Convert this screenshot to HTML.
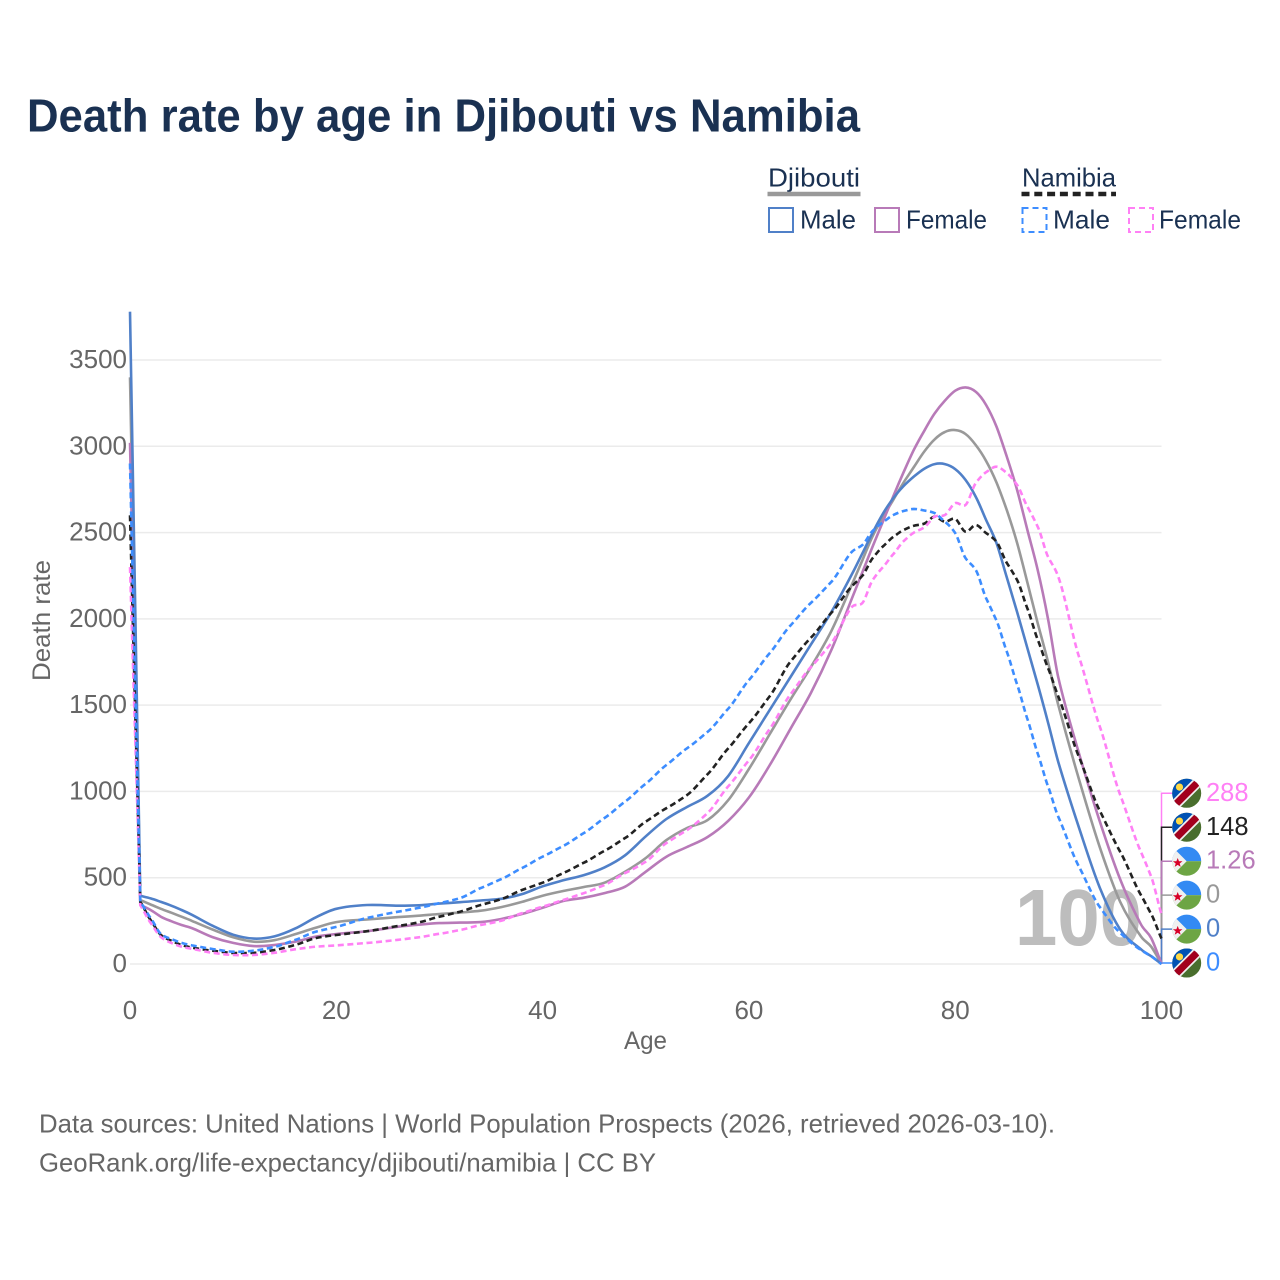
<!DOCTYPE html>
<html lang="en">
<head>
<meta charset="utf-8">
<title>Death rate by age in Djibouti vs Namibia</title>
<style>
html,body{margin:0;padding:0;background:#fff;}
svg{display:block;font-family:"Liberation Sans",sans-serif;}
</style>
</head>
<body>
<svg id="chart" xmlns="http://www.w3.org/2000/svg" width="1280" height="1280" viewBox="0 0 1280 1280">
  <defs>
    <clipPath id="flag-clip"><circle cx="0" cy="0" r="14.5"/></clipPath>
    <symbol id="flag-namibia" viewBox="-15 -15 30 30" overflow="visible">
      <g clip-path="url(#flag-clip)">
        <rect x="-15" y="-15" width="30" height="30" fill="#496e2d"/>
        <polygon points="-15,15 -15,-15 15,-15" fill="#0052b4"/>
        <line x1="-15" y1="15" x2="15" y2="-15" stroke="#f0f0f0" stroke-width="10.5"/>
        <line x1="-15" y1="15" x2="15" y2="-15" stroke="#a2001d" stroke-width="7"/>
        <circle cx="-7.2" cy="-6.2" r="3.6" fill="#ffda44"/>
      </g>
    </symbol>
    <symbol id="flag-djibouti" viewBox="-15 -15 30 30" overflow="visible">
      <g clip-path="url(#flag-clip)">
        <rect x="-15" y="-15" width="30" height="15" fill="#338af3"/>
        <rect x="-15" y="0" width="30" height="15" fill="#6da544"/>
        <polygon points="-15,-15 0,0 -15,15" fill="#f0f0f0"/>
        <polygon points="-9,-3.2 -7.7,0.1 -4.2,0.1 -7,2.3 -6,5.7 -9,3.7 -12,5.7 -11,2.3 -13.8,0.1 -10.3,0.1" fill="#d80027"/>
      </g>
    </symbol>
  </defs>

  <rect x="0" y="0" width="1280" height="1280" fill="#ffffff"/>

  <text x="27" y="131.5" font-size="46" font-weight="700" fill="#1a3152" textLength="833" lengthAdjust="spacingAndGlyphs">Death rate by age in Djibouti vs Namibia</text>

  <g font-size="26" fill="#1a3152">
    <text x="768" y="186.5" textLength="92" lengthAdjust="spacingAndGlyphs">Djibouti</text>
    <line x1="767.5" y1="194" x2="860.5" y2="194" stroke="#999999" stroke-width="4.5"/>
    <text x="1022" y="186.5" textLength="94" lengthAdjust="spacingAndGlyphs">Namibia</text>
    <line x1="1021.5" y1="194" x2="1116" y2="194" stroke="#222222" stroke-width="4.5" stroke-dasharray="8 4.8"/>

    <rect x="769" y="208" width="24" height="24" fill="none" stroke="#5080c8" stroke-width="2"/>
    <text x="800" y="228.5" textLength="56" lengthAdjust="spacingAndGlyphs">Male</text>
    <rect x="875" y="208" width="24" height="24" fill="none" stroke="#b87ab8" stroke-width="2"/>
    <text x="906" y="228.5" textLength="81" lengthAdjust="spacingAndGlyphs">Female</text>
    <rect x="1022.5" y="208" width="24" height="24" fill="none" stroke="#3d8dff" stroke-width="2" stroke-dasharray="6 4"/>
    <text x="1053" y="228.5" textLength="57" lengthAdjust="spacingAndGlyphs">Male</text>
    <rect x="1129" y="208" width="24" height="24" fill="none" stroke="#ff80f5" stroke-width="2" stroke-dasharray="6 4"/>
    <text x="1159" y="228.5" textLength="82" lengthAdjust="spacingAndGlyphs">Female</text>
  </g>

  <g id="grid"></g>
  <g id="y-ticks"></g>
  <g id="x-ticks"></g>

  <text transform="translate(50,620.5) rotate(-90)" text-anchor="middle" font-size="25" fill="#666666" textLength="121" lengthAdjust="spacingAndGlyphs">Death rate</text>
  <text x="645.5" y="1049" text-anchor="middle" font-size="25" fill="#666666" textLength="43" lengthAdjust="spacingAndGlyphs">Age</text>

  <text x="1015" y="945" font-size="80" font-weight="700" fill="#bdbdbd" textLength="127" lengthAdjust="spacingAndGlyphs">100</text>

  <g id="connectors"></g>
  <g id="lines"></g>
  <g id="end-labels"></g>

  <g font-size="26" fill="#666666">
    <text x="39" y="1132.5" textLength="1016" lengthAdjust="spacingAndGlyphs">Data sources: United Nations | World Population Prospects (2026, retrieved 2026-03-10).</text>
    <text x="39" y="1171.5" textLength="617" lengthAdjust="spacingAndGlyphs">GeoRank.org/life-expectancy/djibouti/namibia | CC BY</text>
  </g>
</svg>

<script>
const ages = [0,1,2,3,4,5,6,
  8,10,12,14,16,18,20,
  23,26,28,
  30,32,34,36,38,40,42,44,46,48,50,52,54,56,58,60,62,64,66,68,70,
  71,72,73,74,75,76,77,78,79,80,81,82,83,84,85,86,87,88,89,90,
  92,94,96,98,99,100];

const djiboutiTotal = [3400,370,345,320,297,274,250,
  200,155,129,138,172,210,243,
  258,272,280,
  290,298,309,330,360,396,423,446,471,535,614,718,788,834,950,1130,1330,1530,1720,1930,2200,
  2340,2480,2590,2690,2790,2880,2970,3040,3083,3094,3071,3007,2915,2790,2630,2440,2210,1975,1750,1500,
  1070,680,360,160,100,0];

const djiboutiFemale = [3020,342,313,274,248,226,208,
  156,122,104,110,129,158,174,
  190,216,228,
  237,240,243,261,290,326,365,384,411,448,535,622,678,736,830,965,1150,1360,1570,1820,2120,
  2270,2420,2565,2710,2850,2980,3090,3190,3265,3322,3341,3316,3239,3114,2940,2747,2515,2283,2000,1660,
  1220,830,490,230,150,1.26];

const djiboutiMale = [3780,395,380,360,338,313,285,
  222,170,147,160,205,270,320,
  342,338,340,
  350,358,368,378,405,450,485,515,560,630,740,840,910,975,1090,1280,1470,1660,1850,2040,2260,
  2380,2500,2610,2700,2770,2825,2870,2897,2897,2868,2805,2707,2573,2439,2240,2040,1830,1620,1400,1170,
  790,445,200,85,45,0];

const namibiaTotal = [2600,360,255,168,135,110,95,
  77,64,65,81,110,150,168,
  190,220,241,
  274,303,342,376,429,471,527,587,656,730,825,903,979,1100,1250,1395,1550,1750,1890,2035,2190,
  2250,2352,2420,2475,2515,2540,2552,2592,2563,2579,2505,2544,2497,2447,2324,2225,2060,1880,1715,1550,
  1200,890,650,400,290,148];

const namibiaFemale = [2300,340,238,156,122,100,88,
  65,52,52,65,85,100,108,
  122,140,155,
  175,197,226,251,295,332,371,411,458,527,593,701,776,875,1030,1180,1360,1560,1720,1860,2070,
  2092,2225,2300,2375,2450,2500,2530,2592,2602,2671,2660,2787,2850,2882,2845,2776,2650,2534,2360,2244,
  1781,1380,980,650,506,288];

const namibiaMale = [2900,360,267,174,145,122,108,
  87,71,77,99,139,187,215,
  267,303,325,
  353,382,440,492,556,622,684,759,846,941,1045,1153,1250,1345,1480,1645,1800,1960,2092,2215,2389,
  2428,2510,2560,2602,2625,2637,2628,2613,2563,2497,2352,2283,2120,1990,1810,1620,1420,1220,1030,853,
  564,332,180,81,45,0];

const xTickValues = [0,20,40,60,80,100];
const yTickValues = [0,500,1000,1500,2000,2500,3000,3500];

function xScale(age){ return 130 + age * 10.315; }
function yScale(rate){ return 964 - rate * 0.17257; }

const SVG_NS = 'http://www.w3.org/2000/svg';
function make(tag, parent, attrs){
  const node = document.createElementNS(SVG_NS, tag);
  Object.keys(attrs).forEach(function(k){ node.setAttribute(k, attrs[k]); });
  parent.appendChild(node);
  return node;
}

/* Straight from birth to age 1, then a cubic through the remaining readings. */
function linePath(values, smooth){
  const px = ages.map(xScale);
  const py = values.map(yScale);
  const n = px.length;
  const slope = px.map(function(_, i){
    if (i < 1) return 0;
    const a = i === 1 ? 1 : i - 1;
    const b = i === n - 1 ? n - 1 : i + 1;
    return smooth * (py[b] - py[a]) / (px[b] - px[a]);
  });
  let d = 'M' + px[0].toFixed(1) + ' ' + py[0].toFixed(1) + ' L' + px[1].toFixed(1) + ' ' + py[1].toFixed(1);
  for (let i = 1; i < n - 1; i++){
    const dx = (px[i+1] - px[i]) / 3;
    d += ' C' + (px[i] + dx).toFixed(1) + ' ' + (py[i] + slope[i] * dx).toFixed(1) +
         ' ' + (px[i+1] - dx).toFixed(1) + ' ' + (py[i+1] - slope[i+1] * dx).toFixed(1) +
         ' ' + px[i+1].toFixed(1) + ' ' + py[i+1].toFixed(1);
  }
  return d;
}

const gridGroup = document.getElementById('grid');
const yTickGroup = document.getElementById('y-ticks');
yTickValues.forEach(function(v){
  const gridLine = make('line', gridGroup, {x1:xScale(0), x2:xScale(100), y1:yScale(v), y2:yScale(v), stroke:'#ebebeb', 'stroke-width':1.5});
  
  
  const tick = make('text', yTickGroup, {x:127, y:yScale(v)+8, 'text-anchor':'end', 'font-size':26, fill:'#666666'});
  
  
  tick.textContent = String(v);
});

const xTickGroup = document.getElementById('x-ticks');
xTickValues.forEach(function(v){
  const tick = make('text', xTickGroup, {x:xScale(v), y:1019, 'text-anchor':'middle', 'font-size':26, fill:'#666666'});
  
  
  tick.textContent = String(v);
});

/* drawing order of the lines */
const seriesList = [
  {key:'djibouti-total',  values:djiboutiTotal,  color:'#999999', dash:'',      width:2.6, smooth:1,    flag:'flag-djibouti', labelColor:'#999999'},
  {key:'djibouti-female', values:djiboutiFemale, color:'#b87ab8', dash:'',      width:2.6, smooth:1,    flag:'flag-djibouti', labelColor:'#b87ab8'},
  {key:'djibouti-male',   values:djiboutiMale,   color:'#5080c8', dash:'',      width:2.6, smooth:1,    flag:'flag-djibouti', labelColor:'#5080c8'},
  {key:'namibia-total',   values:namibiaTotal,   color:'#222222', dash:'6 3.6', width:2.6, smooth:0.85, flag:'flag-namibia',  labelColor:'#222222'},
  {key:'namibia-female',  values:namibiaFemale,  color:'#ff80f5', dash:'6 3.6', width:2.6, smooth:0.85, flag:'flag-namibia',  labelColor:'#ff80f5'},
  {key:'namibia-male',    values:namibiaMale,    color:'#3d8dff', dash:'6 3.6', width:2.6, smooth:0.85, flag:'flag-namibia',  labelColor:'#3d8dff'}
];

const lineGroup = document.getElementById('lines');
seriesList.forEach(function(s){
  const attrs = {d:linePath(s.values, s.smooth), fill:'none', stroke:s.color, 'stroke-width':s.width, 'stroke-linejoin':'round'};
  if (s.dash) attrs['stroke-dasharray'] = s.dash;
  const line = make('path', lineGroup, attrs);
  
  
});

/* end labels: stacked top to bottom, highest end value first */
const stackOrder = ['namibia-female','namibia-total','djibouti-female','djibouti-total','djibouti-male','namibia-male'];
const sorted = seriesList.slice().sort(function(a, b){
  const diff = b.values[b.values.length-1] - a.values[a.values.length-1];
  return diff !== 0 ? diff : stackOrder.indexOf(a.key) - stackOrder.indexOf(b.key);
});
const connectorGroup = document.getElementById('connectors');
const labelGroup = document.getElementById('end-labels');
sorted.forEach(function(s, i){
  const slotY = 793.3 + i * 33.95;
  const last = s.values[s.values.length-1];
  const conn = make('path', connectorGroup, {d:'M' + xScale(100) + ' ' + yScale(last).toFixed(1) + ' V' + slotY.toFixed(1) + ' H1172', fill:'none', stroke:s.color, 'stroke-width':1.5});
  
  
  const flag = make('use', labelGroup, {href:'#' + s.flag, x:1171.7, y:slotY-15, width:30, height:30});
  
  
  const label = make('text', labelGroup, {x:1206, y:slotY+7.5, 'font-size':25.5, fill:s.labelColor});
  
  
  label.textContent = String(last);
});
</script>
</body>
</html>
